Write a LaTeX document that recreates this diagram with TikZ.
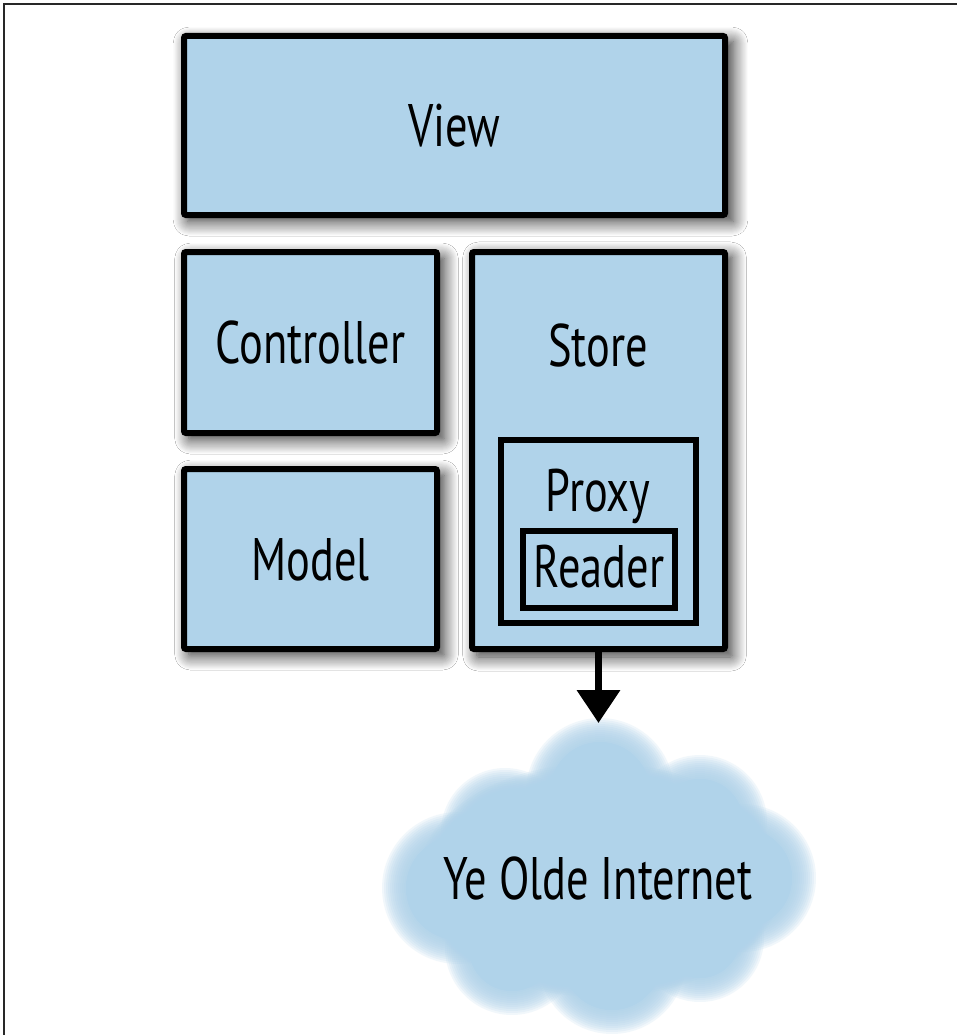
\documentclass[tikz,border=0pt]{standalone}
\usepackage{fontspec}
\newfontfamily\labelfont{PT Sans}[FakeStretch=0.74]
\usetikzlibrary{shadows.blur,arrows.meta}
\definecolor{boxblue}{RGB}{176,211,234}
\definecolor{framegray}{RGB}{40,40,40}

\begin{document}
\begin{tikzpicture}[x=1pt,y=-1pt,
  txt/.style={font=\labelfont\fontsize{60}{70}\selectfont, text height=42pt, text depth=0pt, inner sep=0pt},
  block/.style={txt, draw=black, fill=boxblue, line width=6pt, rounded corners=2pt,
    blur shadow={shadow xshift=6pt, shadow yshift=-6pt, shadow scale=1.01,
      shadow blur radius=14pt, shadow blur steps=14, shadow opacity=80}},
  nested/.style={draw=black, fill=boxblue, line width=6pt, inner sep=0pt},
  haze/.style={line join=round, fill=boxblue,
    postaction={draw=boxblue, line width=4pt, opacity=0.17},
    postaction={draw=boxblue, line width=8pt, opacity=0.17},
    postaction={draw=boxblue, line width=12pt, opacity=0.17},
    postaction={draw=boxblue, line width=16pt, opacity=0.17},
    postaction={draw=boxblue, line width=20pt, opacity=0.17},
    postaction={draw=boxblue, line width=24pt, opacity=0.17},
    postaction={draw=boxblue, line width=28pt, opacity=0.17},
    postaction={draw=boxblue, line width=32pt, opacity=0.17},
    postaction={draw=boxblue, line width=36pt, opacity=0.17},
    postaction={draw=boxblue, line width=40pt, opacity=0.17},
    postaction={draw=boxblue, line width=44pt, opacity=0.17},
    postaction={draw=boxblue, line width=48pt, opacity=0.17}},
  link/.style={line width=7pt, -{Triangle[width=42pt,length=33pt]}}
]
\useasboundingbox (0,0) rectangle (957,1035);
\fill[white] (0,0) rectangle (957,1035);
\draw[framegray, line width=1.6pt] (4,1035) -- (4,4) -- (957,4);

% top row
\node[block, minimum width=541pt, minimum height=179pt] (view) at (454.5,125.5) {View};

% left column
\node[block, minimum width=253pt, minimum height=181pt] (controller) at (310.5,342.5) {Controller};
\node[block, minimum width=253pt, minimum height=180pt] (model) at (310.5,559) {Model};

% store with its nested proxy and reader
\node[block, minimum width=253pt, minimum height=397pt] (store) at (598.5,450.5) {};
\node[txt] (storeText) at (598,345) {Store};
\node[nested, minimum width=195pt, minimum height=183pt] (proxy) at (598.5,531.5) {};
\node[txt] (proxyText) at (598,490) {Proxy};
\node[nested, txt, text depth=6pt, minimum width=152pt, minimum height=77pt] (reader) at (599,569.5) {Reader};

% the network: a soft-edged cloud built from overlapping puffs
\path[haze] (600,880) ellipse [x radius=158, y radius=93];
\path[haze] (600,792) circle [radius=50];
\path[haze] (700,822) circle [radius=43];
\path[haze] (742,878) circle [radius=50];
\path[haze] (700,938) circle [radius=40];
\path[haze] (612,960) circle [radius=50];
\path[haze] (512,948) circle [radius=43];
\path[haze] (458,888) circle [radius=52];
\path[haze] (505,832) circle [radius=40];
\coordinate (cloudTop) at (598,723);
\node[txt] (net) at (598,878) {Ye Olde Internet};

\draw[link] (store.south) -- (store.south |- cloudTop);
\end{tikzpicture}
\end{document}
